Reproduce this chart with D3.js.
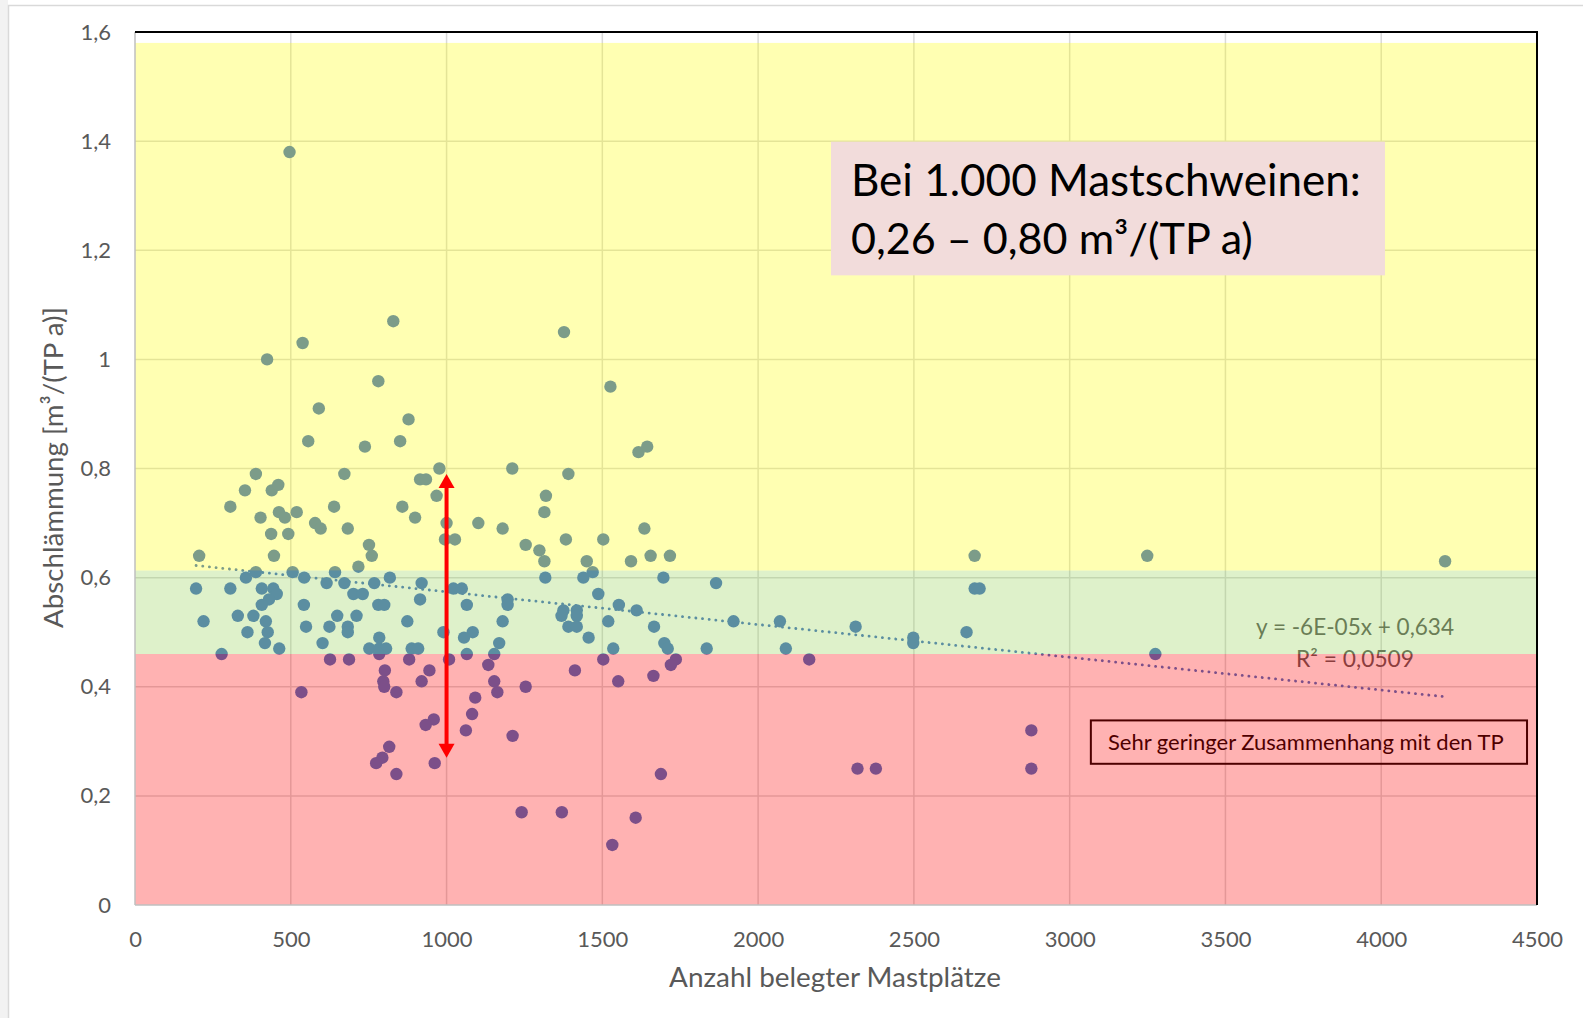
<!DOCTYPE html>
<html>
<head>
<meta charset="utf-8">
<script src="https://cdn.jsdelivr.net/npm/d3@7"></script>
<style>
  html, body { margin: 0; padding: 0; background: #ffffff; }
  svg { display: block; }
  text { font-family: Lato, "Open Sans", "Noto Sans", sans-serif; }
</style>
</head>
<body>
<svg id="chart" width="1583" height="1018"></svg>
<script>
// ---------------- DATA ----------------
const xValues = [
  496,424,538,829,1377,781,1526,590,878,556,851,738,1616,1644,977,1211,388,672,1391,915,
  934,968,1319,353,439,460,306,639,858,462,519,1314,403,481,899,578,1000,1102,596,683,
  1180,1635,437,492,995,1027,1383,1503,751,1254,1298,206,446,760,1655,1717,2695,3249,1314,1450,
  1592,4205,717,1469,388,506,642,
  356,543,818,1317,1439,1696,
  768,920,615,672,1865,
  196,306,407,444,1022,1049,2695,2711,
  455,701,731,1487,
  430,915,1196,
  407,542,781,800,1065,1196,1553,
  1375,1418,1610,
  330,380,649,711,1369,1418,
  220,420,874,1180,1519,1921,2070,
  549,624,683,1391,1418,1666,2313,
  361,426,683,990,1084,2669,
  784,1056,1456,2498,
  417,602,1169,1699,2498,
  463,752,784,806,888,909,1535,1710,1835,2089,
  278,784,1065,1153,3275,
  626,687,880,1008,1503,1736,2164,
  1134,1720,
  802,945,1412,
  1664,
  797,920,1153,1551,
  800,1254,
  534,839,1163,
  1092,1082,959,933,
  1062,2877,
  1212,816,794,
  774,962,
  839,1688,
  2319,2378,2877,
  1241,1370,1607,1532
];
const yValues = [
  1.38,1.00,1.03,1.07,1.05,0.96,0.95,0.91,0.89,0.85,0.85,0.84,0.83,0.84,0.80,0.80,0.79,0.79,0.79,0.78,
  0.78,0.75,0.75,0.76,0.76,0.77,0.73,0.73,0.73,0.72,0.72,0.72,0.71,0.71,0.71,0.70,0.70,0.70,0.69,0.69,
  0.69,0.69,0.68,0.68,0.67,0.67,0.67,0.67,0.66,0.66,0.65,0.64,0.64,0.64,0.64,0.64,0.64,0.64,0.63,0.63,
  0.63,0.63,0.62,0.61,0.61,0.61,0.61,
  0.60,0.60,0.60,0.60,0.60,0.60,
  0.59,0.59,0.59,0.59,0.59,
  0.58,0.58,0.58,0.58,0.58,0.58,0.58,0.58,
  0.57,0.57,0.57,0.57,
  0.56,0.56,0.56,
  0.55,0.55,0.55,0.55,0.55,0.55,0.55,
  0.54,0.54,0.54,
  0.53,0.53,0.53,0.53,0.53,0.53,
  0.52,0.52,0.52,0.52,0.52,0.52,0.52,
  0.51,0.51,0.51,0.51,0.51,0.51,0.51,
  0.50,0.50,0.50,0.50,0.50,0.50,
  0.49,0.49,0.49,0.49,
  0.48,0.48,0.48,0.48,0.48,
  0.47,0.47,0.47,0.47,0.47,0.47,0.47,0.47,0.47,0.47,
  0.46,0.46,0.46,0.46,0.46,
  0.45,0.45,0.45,0.45,0.45,0.45,0.45,
  0.44,0.44,
  0.43,0.43,0.43,
  0.42,
  0.41,0.41,0.41,0.41,
  0.40,0.40,
  0.39,0.39,0.39,
  0.38,0.35,0.34,0.33,
  0.32,0.32,
  0.31,0.29,0.27,
  0.26,0.26,
  0.24,0.24,
  0.25,0.25,0.25,
  0.17,0.17,0.16,0.11
];

const xTicks = [0,500,1000,1500,2000,2500,3000,3500,4000,4500];
const xTickLabels = ["0","500","1000","1500","2000","2500","3000","3500","4000","4500"];
const yTicks = [0,0.2,0.4,0.6,0.8,1.0,1.2,1.4,1.6];
const yTickLabels = ["0","0,2","0,4","0,6","0,8","1","1,2","1,4","1,6"];

// coloured evaluation zones (lower, upper bound in m³/(TP a))
const zoneLow    = [0, 0.46, 0.613];
const zoneHigh   = [0.46, 0.613, 1.58];
const zoneColors = ["#FF0000", "#92D050", "#FFFF00"];

// linear trend (Excel)
const trendSlope = -6.0e-5;
const trendIntercept = 0.634;
const trendLabel = ["y = -6E-05x + 0,634", "R\u00B2 = 0,0509"];

// range at 1000 pigs
const arrowX = 1000;
const arrowRange = [0.27, 0.79];

const infoLines = ["Bei 1.000 Mastschweinen:", "0,26 \u2013 0,80 m\u00B3/(TP a)"];
const noteText = "Sehr geringer Zusammenhang mit den TP";
const xTitle = "Anzahl belegter Mastpl\u00E4tze";
const yTitle = "Abschl\u00E4mmung [m\u00B3/(TP a)]";

// ---------------- LAYOUT ----------------
const svg = d3.select("#chart");
const L = 135, R = 1537, T = 32, B = 905;
const x = d3.scaleLinear().domain([0, 4500]).range([L, R]);
const y = d3.scaleLinear().domain([0, 1.6]).range([B, T]);

function fit(sel, target) {
  const n = sel.node();
  const fs = parseFloat(sel.attr("font-size"));
  const w = n.getComputedTextLength();
  if (w > 0) sel.attr("font-size", (fs * target / w).toFixed(2));
  return sel;
}

// outer chart frame
svg.append("rect").attr("x", 0).attr("y", 0).attr("width", 8).attr("height", 1018).attr("fill", "#f2f2f2");
svg.append("rect").attr("x", 8.5).attr("y", 5.5).attr("width", 1600).attr("height", 1100)
  .attr("fill", "#ffffff").attr("stroke", "#d9d9d9").attr("stroke-width", 1.5);

// gridlines
const grid = svg.append("g");
grid.selectAll("line.v").data(xTicks.slice(1, -1)).join("line")
  .attr("x1", d => x(d)).attr("x2", d => x(d)).attr("y1", T).attr("y2", B)
  .attr("stroke", "#d9d9d9").attr("stroke-width", 1.5);
grid.selectAll("line.h").data(yTicks.slice(1, -1)).join("line")
  .attr("x1", L).attr("x2", R).attr("y1", d => y(d)).attr("y2", d => y(d))
  .attr("stroke", "#d9d9d9").attr("stroke-width", 1.5);

// points
const pts = xValues.map((v, i) => ({x: v, y: yValues[i]}));
svg.append("g").selectAll("circle").data(pts).join("circle")
  .attr("cx", d => x(d.x)).attr("cy", d => y(d.y)).attr("r", 6.2)
  .attr("fill", "#4472C4");

// trendline
const ext = d3.extent(xValues);
const trend = ext.map(v => ({x: v, y: trendIntercept + trendSlope * v}));
svg.append("path")
  .attr("d", d3.line().x(d => x(d.x)).y(d => y(d.y))(trend))
  .attr("fill", "none").attr("stroke", "#4472C4").attr("stroke-width", 2.8)
  .attr("stroke-linecap", "round").attr("stroke-dasharray", "0.1 6.6");

// trend equation
const eq1 = svg.append("text").attr("x", x(3916)).attr("y", y(0.4945))
  .attr("text-anchor", "middle").attr("font-size", 22).attr("fill", "#595959").text(trendLabel[0]);
fit(eq1, 198);
const eq2 = svg.append("text").attr("x", x(3916)).attr("y", y(0.4365))
  .attr("text-anchor", "middle").attr("font-size", 22).attr("fill", "#595959").text(trendLabel[1]);
fit(eq2, 118);

// note box
svg.append("rect").attr("x", x(3068)).attr("y", y(0.3383))
  .attr("width", x(4468) - x(3068)).attr("height", y(0.2588) - y(0.3383))
  .attr("fill", "none").attr("stroke", "#000000").attr("stroke-width", 2);
const note = svg.append("text").attr("x", x(3758)).attr("y", y(0.2839))
  .attr("text-anchor", "middle").attr("font-size", 21).attr("fill", "#000000").text(noteText);
fit(note, 396);

// translucent zone overlays
svg.append("g").selectAll("rect").data(zoneLow).join("rect")
  .attr("x", L).attr("width", R - L - 1)
  .attr("y", (d, i) => y(zoneHigh[i]))
  .attr("height", (d, i) => y(zoneLow[i]) - y(zoneHigh[i]))
  .attr("fill", (d, i) => zoneColors[i]).attr("fill-opacity", 0.3);

// red double arrow
const ax = x(arrowX), ay1 = y(arrowRange[0]), ay2 = y(arrowRange[1]);
svg.append("line").attr("x1", ax).attr("x2", ax).attr("y1", ay2 + 12).attr("y2", ay1 - 12)
  .attr("stroke", "#FF0000").attr("stroke-width", 4);
svg.append("path").attr("d", `M${ax},${ay2} L${ax-8},${ay2+14} L${ax+8},${ay2+14} Z`).attr("fill", "#FF0000");
svg.append("path").attr("d", `M${ax},${ay1} L${ax-8},${ay1-14} L${ax+8},${ay1-14} Z`).attr("fill", "#FF0000");

// info box
svg.append("rect").attr("x", x(2234)).attr("y", y(1.399))
  .attr("width", x(4012) - x(2234)).attr("height", y(1.154) - y(1.399))
  .attr("fill", "#F2DCDB");
const i1 = svg.append("text").attr("x", x(2298)).attr("y", y(1.300))
  .attr("font-size", 45).attr("fill", "#000000").text(infoLines[0]);
fit(i1, 510);
const i2 = svg.append("text").attr("x", x(2298)).attr("y", y(1.194))
  .attr("font-size", 45).attr("fill", "#000000").text(infoLines[1]);
fit(i2, 402);

// plot borders
svg.append("line").attr("x1", L).attr("x2", L).attr("y1", T).attr("y2", B).attr("stroke", "#bfbfbf").attr("stroke-width", 1.5);
svg.append("line").attr("x1", L).attr("x2", R).attr("y1", B).attr("y2", B).attr("stroke", "#bfbfbf").attr("stroke-width", 1.5);
svg.append("line").attr("x1", L).attr("x2", R + 1).attr("y1", T).attr("y2", T).attr("stroke", "#000000").attr("stroke-width", 2);
svg.append("line").attr("x1", R).attr("x2", R).attr("y1", T).attr("y2", B).attr("stroke", "#000000").attr("stroke-width", 2);

// axes
const xAxis = svg.append("g").attr("transform", `translate(0,${B})`)
  .call(d3.axisBottom(x).tickValues(xTicks).tickFormat((d, i) => xTickLabels[i]).tickSize(0).tickPadding(26));
const yAxis = svg.append("g").attr("transform", `translate(${L},0)`)
  .call(d3.axisLeft(y).tickValues(yTicks).tickFormat((d, i) => yTickLabels[i]).tickSize(0).tickPadding(24));
[xAxis, yAxis].forEach(g => {
  g.select(".domain").remove();
  g.selectAll("text").attr("font-size", 22).attr("fill", "#595959")
    .attr("font-family", "Lato, 'Open Sans', sans-serif");
});

// axis titles
const xt = svg.append("text").attr("x", (L + R) / 2 - 1).attr("y", 987)
  .attr("text-anchor", "middle").attr("font-size", 24).attr("fill", "#595959").text(xTitle);
fit(xt, 332);
const yt = svg.append("text").attr("transform", "translate(63,467.5) rotate(-90)")
  .attr("text-anchor", "middle").attr("font-size", 24).attr("fill", "#595959").text(yTitle);
fit(yt, 321);
</script>
</body>
</html>
